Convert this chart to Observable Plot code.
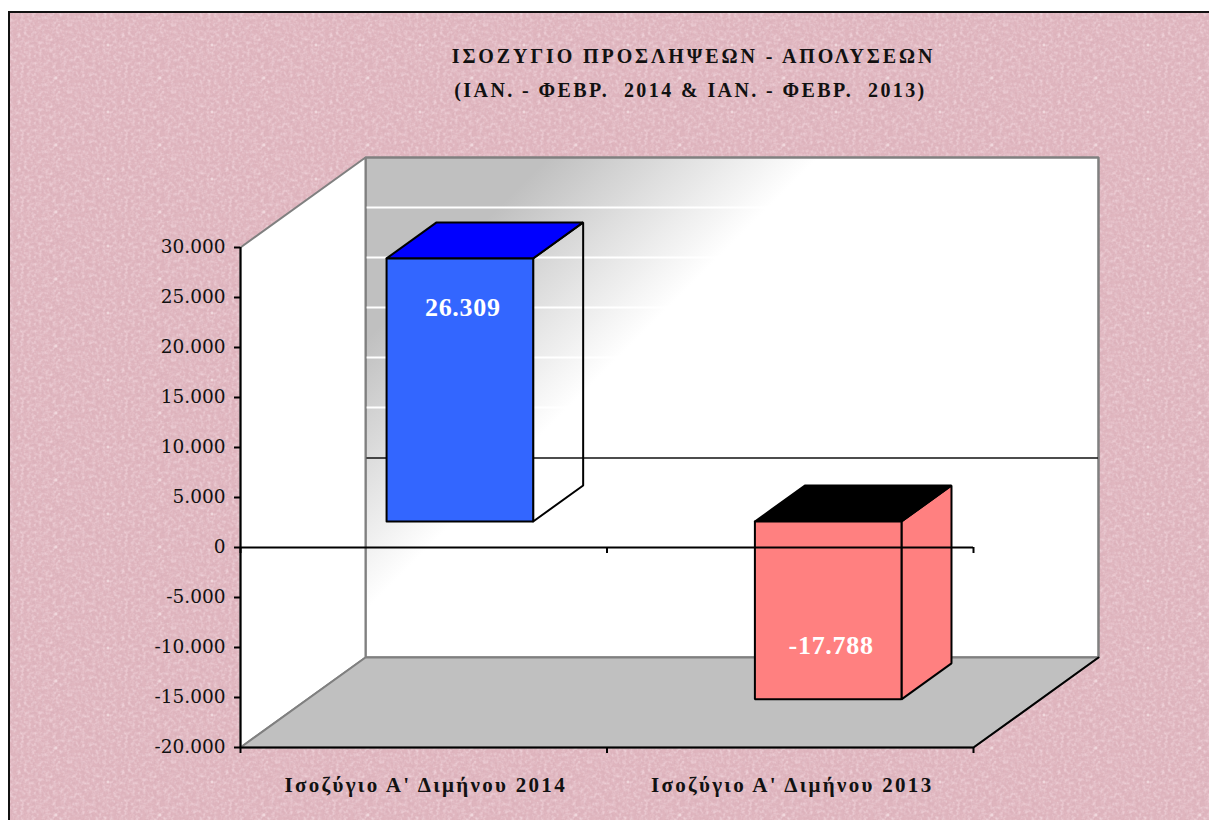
<!DOCTYPE html>
<html><head><meta charset="utf-8">
<script src="https://cdn.jsdelivr.net/npm/d3@7"></script>
<script src="https://cdn.jsdelivr.net/npm/@observablehq/plot@0.6"></script>
<style>
html,body{margin:0;padding:0;background:#fff;overflow:hidden;width:1209px;height:820px}
#frame{position:absolute;left:8px;top:11px;width:1215px;height:825px;border:2px solid #111;box-sizing:border-box}
#chart{position:absolute;left:0;top:0}
</style></head><body>
<div id="frame"></div><div id="chart"></div>
<script>
const categories = ["Ισοζύγιο Α' Διμήνου 2014", "Ισοζύγιο Α' Διμήνου 2013"];
const values = [26309, -17788];
const barCenters = [0.5, 1.505];
const yTicks = [-20000,-15000,-10000,-5000,0,5000,10000,15000,20000,25000,30000];
const xTicks = [0,1,2];
const titleLines = ["ΙΣΟΖΥΓΙΟ ΠΡΟΣΛΗΨΕΩΝ - ΑΠΟΛΥΣΕΩΝ", "(ΙΑΝ. - ΦΕΒΡ.  2014 & ΙΑΝ. - ΦΕΒΡ.  2013)"];
const faceColors = [{front:"#3366ff",top:"#0000ff",side:"none"},{front:"#ff8080",top:"#000000",side:"#ff8080"}];

// paper texture behind the chart
const tile = `<svg xmlns="http://www.w3.org/2000/svg" width="104" height="67"><filter id="n" x="0" y="0" width="100%" height="100%"><feTurbulence type="fractalNoise" baseFrequency=".35" numOctaves="3" stitchTiles="stitch" seed="4"/><feColorMatrix values="0 0 0 0 .66 0 0 0 0 .4 0 0 0 0 .46 1 0 0 0 -.36"/></filter><filter id="m" x="0" y="0" width="100%" height="100%"><feTurbulence type="fractalNoise" baseFrequency=".28" numOctaves="2" stitchTiles="stitch" seed="9"/><feColorMatrix values="0 0 0 0 1 0 0 0 0 .88 0 0 0 0 .92 0 1 0 0 -.4"/></filter><rect width="104" height="67" fill="#e0b6bf"/><rect width="104" height="67" filter="url(#m)"/><rect width="104" height="67" filter="url(#n)"/><circle cx="46" cy="65" r="1.4" fill="#f0d8dd"/><circle cx="98" cy="32" r="1.4" fill="#f0d8dd"/></svg>`;
document.getElementById("frame").style.background = `url("data:image/svg+xml,${encodeURIComponent(tile)}")`;

// oblique projection of the 3D box onto the two plane scales
const DX = 0.341, DY = 9000;
const at = (c, v, d=0) => ({x: c + d*DX, y: v + d*DY});
const [yLo, yHi] = [yTicks[0], yTicks[yTicks.length-1]];
const xHi = xTicks[xTicks.length-1];
const fmt = d3.formatLocale({decimal:",",thousands:".",grouping:[3],currency:["","€"],minus:"-"}).format(",");

const wall  = [at(0,yLo,1),at(0,yHi,1),at(xHi,yHi,1),at(xHi,yLo,1),at(0,yLo,1)];
const left  = [at(0,yLo,0),at(0,yHi,0),at(0,yHi,1),at(0,yLo,1),at(0,yLo,0)];
const floor = [at(0,yLo,0),at(xHi,yLo,0),at(xHi,yLo,1),at(0,yLo,1),at(0,yLo,0)];

const D0 = 0.289, D1 = 0.689, HW = 0.2;
const poly = (pts, fill, stroke="#000", sw=2) => Plot.line(pts,{x:"x",y:"y",fill,stroke,strokeWidth:sw,strokeLinejoin:"miter",curve:"linear"});
const barMarks = values.flatMap((v,i)=>{
  const c = barCenters[i], a=c-HW, b=c+HW, col=faceColors[i], t=Math.max(v,0);
  return [
    poly([at(b,0,D0),at(b,v,D0),at(b,v,D1),at(b,0,D1),at(b,0,D0)], col.side),
    poly([at(a,t,D0),at(b,t,D0),at(b,t,D1),at(a,t,D1),at(a,t,D0)], col.top),
    poly([at(a,0,D0),at(a,v,D0),at(b,v,D0),at(b,0,D0),at(a,0,D0)], col.front)
  ];
});
const labels = values.map((v,i)=>({...at(barCenters[i]+0.008,v,D0),t:fmt(v),up:v>0}));

const gradient = () => {
  const s = d3.create("svg:g");
  const g = s.append("defs").append("linearGradient").attr("id","wallGrad")
    .attr("gradientUnits","userSpaceOnUse").attr("x1",455).attr("y1",250).attr("x2",590).attr("y2",385);
  g.append("stop").attr("offset",0).attr("stop-color","#c0c0c0");
  g.append("stop").attr("offset",1).attr("stop-color","#ffffff");
  return s.node();
};
const serif = "'Liberation Serif',serif";

const plot = Plot.plot({
  width:1209,height:820,marginLeft:240,marginRight:236,marginTop:247,marginBottom:73,
  style:{background:"transparent",overflow:"visible"},
  x:{domain:[0,xHi],axis:null},
  y:{domain:[yLo,yHi],axis:null},
  marks:[
    gradient,
    poly(wall,"url(#wallGrad)","#808080",2.5),
    Plot.ruleY(yTicks.filter(t=>t>0&&t<yHi),{y:t=>t+DY,x1:DX*1.01,x2:xHi+DX-0.005,stroke:"#fff",strokeWidth:2}),
    Plot.ruleY([0],{y:t=>t+DY,dy:0.5,x1:DX,x2:xHi+DX,stroke:"#111",strokeWidth:1.5}),
    poly(left,"#fff","#808080",2),
    poly(floor,"#c0c0c0","#808080",2),
    Plot.line([at(0,yLo),at(xHi,yLo),at(xHi,yLo,1)],{x:"x",y:"y",stroke:"#000",strokeWidth:2,curve:"linear"}),
    ...barMarks,
    Plot.ruleY([0],{x1:0,x2:xHi,stroke:"#000",strokeWidth:2}),
    Plot.ruleX(xTicks,{y1:0,y2:-600,stroke:"#000",strokeWidth:2}),
    Plot.ruleX(xTicks,{y1:yLo,y2:yLo-600,stroke:"#000",strokeWidth:2}),
    Plot.ruleX([0],{y1:yLo,y2:yHi,stroke:"#000",strokeWidth:2}),
    Plot.axisY(yTicks,{anchor:"left",label:null,tickSize:6,tickPadding:9,tickFormat:fmt,fontSize:18.5,fontFamily:"'DejaVu Serif',serif",strokeWidth:2,stroke:"#000",color:"#111"}),
    Plot.text(labels,{x:"x",y:"y",text:"t",dy:49,filter:d=>d.up,fill:"#fff",fontSize:26,fontWeight:"bold",fontFamily:serif}),
    Plot.text(labels,{x:"x",y:"y",text:"t",dy:-54,filter:d=>!d.up,fill:"#fff",fontSize:26,fontWeight:"bold",fontFamily:serif}),
    Plot.text(categories,{x:(d,i)=>i+0.5,y:()=>yLo,text:d=>d,dx:2,dy:38,fontSize:21,fontWeight:"bold",fontFamily:serif,fill:"#111"}),
    Plot.text([titleLines[0]],{frameAnchor:"top-left",text:d=>d,dx:453,dy:-199,fontSize:20,fontWeight:"bold",fontFamily:serif,fill:"#111",textAnchor:"middle"}),
    Plot.text([titleLines[1]],{frameAnchor:"top-left",text:d=>d,dx:450,dy:-165,fontSize:20,fontWeight:"bold",fontFamily:serif,fill:"#111",textAnchor:"middle"})
  ]
});
// Plot.text has no letter-spacing option: widen the serif labels afterwards
const spacing = new Map([
  [titleLines[0],2.9],[titleLines[1],2.4],
  ...categories.map(c=>[c,2.3]),
  ...labels.map(l=>[l.t,0.7])
]);
plot.querySelectorAll("text").forEach(t=>{
  const s = spacing.get(t.textContent);
  if (s) { t.setAttribute("letter-spacing",s+"px"); t.setAttribute("xml:space","preserve"); }
});
document.getElementById("chart").appendChild(plot);
</script>
</body></html>
